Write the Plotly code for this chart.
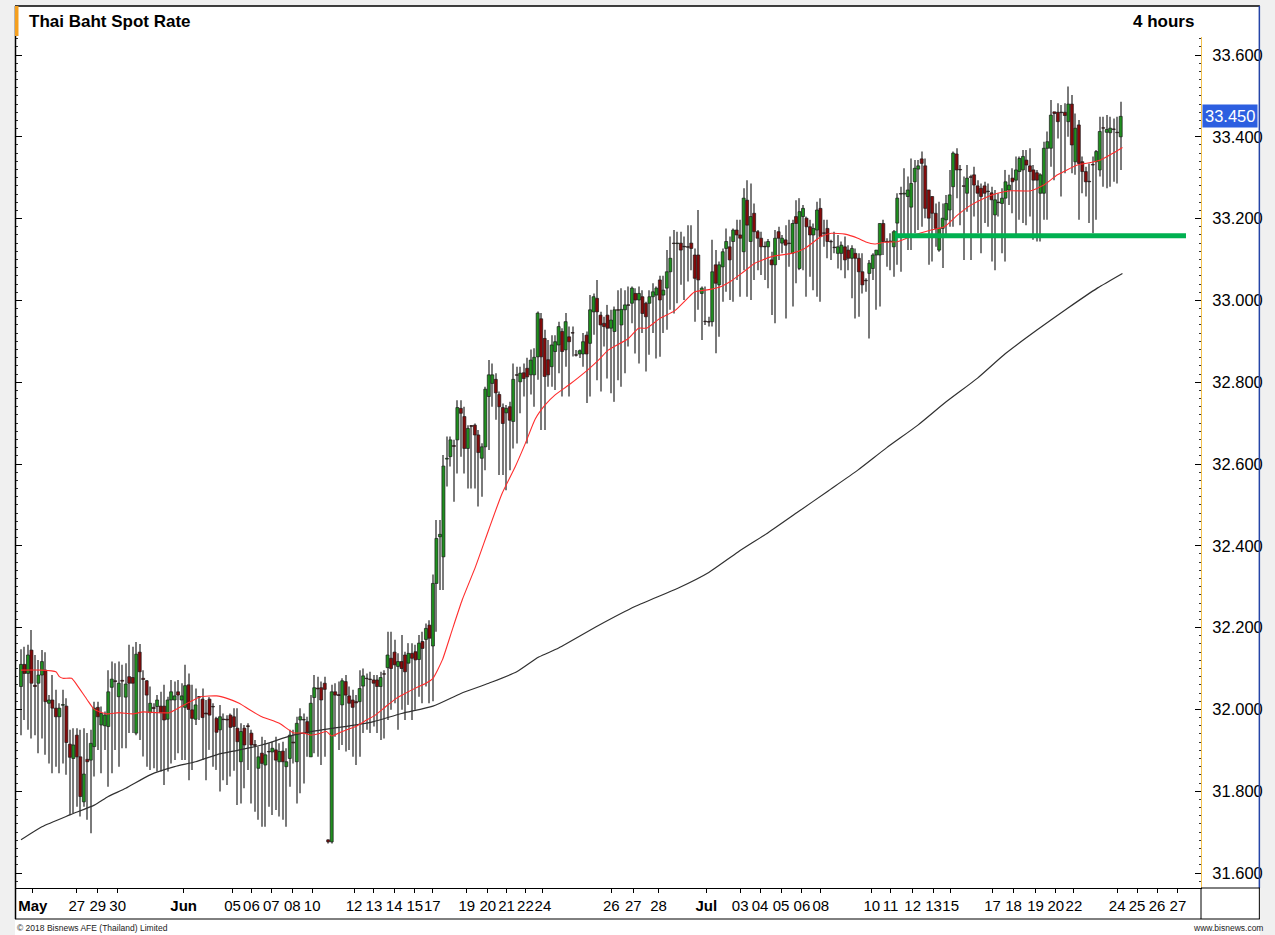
import plotly.graph_objects as go

# ---------------- data (4-hour candles, bar index 0..315) ----------------
OPEN = [
 32.056, 32.110, 32.088, 32.145, 32.059, 32.064, 32.084, 32.096, 32.015, 32.023,
 32.003, 31.982, 32.010, 32.008, 31.915, 31.880, 31.937, 31.884, 31.774, 31.878,
 31.876, 31.909, 32.005, 31.962, 31.960, 31.958, 32.054, 32.070, 32.031, 32.071,
 32.030, 32.080, 32.078, 31.942, 32.140, 32.076, 32.070, 31.992, 32.005, 32.007,
 32.008, 32.008, 31.976, 32.023, 32.023, 32.043, 32.023, 32.005, 32.060, 31.999,
 31.976, 32.031, 32.025, 31.991, 32.025, 32.007, 31.978, 31.950, 31.976, 31.976,
 31.986, 31.982, 31.954, 31.872, 31.954, 31.960, 31.942, 31.914, 31.856, 31.893,
 31.864, 31.897, 31.896, 31.901, 31.872, 31.898, 31.860, 31.880, 31.920, 31.872,
 31.974, 31.975, 31.970, 31.884, 32.029, 32.052, 32.053, 32.064, 31.681, 31.676,
 32.043, 32.036, 32.011, 32.068, 32.033, 32.023, 32.019, 32.019, 32.057, 32.076,
 32.074, 32.072, 32.072, 32.056, 32.087, 32.102, 32.125, 32.140, 32.105, 32.117,
 32.133, 32.113, 32.137, 32.141, 32.122, 32.166, 32.171, 32.206, 32.155, 32.308,
 32.422, 32.373, 32.612, 32.618, 32.645, 32.659, 32.736, 32.716, 32.638, 32.694,
 32.695, 32.671, 32.614, 32.642, 32.765, 32.797, 32.807, 32.770, 32.738, 32.725,
 32.740, 32.704, 32.818, 32.801, 32.823, 32.834, 32.818, 32.818, 32.862, 32.955,
 32.907, 32.855, 32.838, 32.875, 32.891, 32.924, 32.879, 32.911, 32.921, 32.867,
 32.869, 32.869, 32.915, 32.895, 32.972, 33.005, 32.964, 32.944, 32.964, 32.932,
 32.924, 32.977, 32.940, 32.977, 32.989, 32.993, 33.017, 33.001, 33.009, 32.993,
 32.993, 33.009, 33.013, 33.050, 33.013, 33.030, 33.070, 33.140, 33.139, 33.140,
 33.132, 33.131, 33.140, 33.111, 33.111, 33.017, 32.949, 32.948, 32.948, 33.087,
 33.038, 33.082, 33.127, 33.131, 33.144, 33.172, 33.160, 33.119, 33.245, 33.144,
 33.213, 33.168, 33.152, 33.132, 33.131, 33.099, 33.087, 33.168, 33.140, 33.148,
 33.140, 33.115, 33.205, 33.078, 33.205, 33.201, 33.180, 33.160, 33.172, 33.225,
 33.165, 33.176, 33.144, 33.130, 33.115, 33.115, 33.131, 33.123, 33.103, 33.115,
 33.103, 33.070, 33.049, 33.066, 33.078, 33.111, 33.111, 33.188, 33.144, 33.144,
 33.131, 33.189, 33.261, 33.260, 33.254, 33.228, 33.290, 33.321, 33.346, 33.329,
 33.270, 33.254, 33.213, 33.123, 33.176, 33.197, 33.221, 33.278, 33.358, 33.320,
 33.280, 33.262, 33.302, 33.307, 33.280, 33.274, 33.280, 33.267, 33.263, 33.209,
 33.240, 33.237, 33.250, 33.270, 33.299, 33.294, 33.315, 33.319, 33.343, 33.329,
 33.319, 33.312, 33.262, 33.262, 33.372, 33.372, 33.461, 33.460, 33.460, 33.460,
 33.437, 33.480, 33.339, 33.429, 33.339, 33.315, 33.291, 33.332, 33.339, 33.319,
 33.422, 33.411, 33.410, 33.419, 33.411, 33.400,
]
HIGH = [
 32.147, 32.153, 32.158, 32.194, 32.133, 32.121, 32.145, 32.140, 32.035, 32.084,
 32.048, 32.015, 32.048, 32.027, 31.950, 31.954, 31.954, 31.950, 31.954, 31.942,
 31.950, 32.019, 32.019, 32.007, 31.995, 32.096, 32.117, 32.113, 32.117, 32.109,
 32.113, 32.158, 32.153, 32.165, 32.160, 32.096, 32.072, 32.056, 32.015, 32.035,
 32.043, 32.060, 32.031, 32.072, 32.068, 32.072, 32.064, 32.109, 32.088, 32.060,
 32.051, 32.033, 32.051, 32.023, 32.030, 32.015, 31.982, 32.011, 31.990, 31.986,
 31.990, 32.003, 32.003, 31.966, 31.962, 31.966, 31.950, 31.925, 31.909, 31.933,
 31.925, 31.917, 31.921, 31.933, 31.917, 31.921, 31.905, 31.950, 31.950, 31.982,
 32.003, 31.990, 31.982, 32.035, 32.084, 32.080, 32.068, 32.080, 31.682, 32.060,
 32.064, 32.068, 32.076, 32.084, 32.056, 32.048, 32.035, 32.096, 32.100, 32.088,
 32.092, 32.084, 32.084, 32.092, 32.096, 32.190, 32.190, 32.170, 32.137, 32.182,
 32.141, 32.162, 32.162, 32.158, 32.182, 32.190, 32.210, 32.218, 32.330, 32.463,
 32.463, 32.622, 32.667, 32.667, 32.659, 32.756, 32.756, 32.740, 32.695, 32.695,
 32.699, 32.683, 32.651, 32.789, 32.854, 32.846, 32.822, 32.777, 32.748, 32.744,
 32.752, 32.846, 32.838, 32.838, 32.846, 32.860, 32.880, 32.883, 32.973, 32.969,
 32.928, 32.903, 32.915, 32.915, 32.948, 32.932, 32.969, 32.936, 32.936, 32.879,
 32.880, 32.920, 32.924, 33.013, 33.017, 33.050, 32.972, 32.960, 32.989, 32.977,
 32.985, 33.025, 33.030, 33.025, 33.034, 33.034, 33.030, 33.034, 33.025, 32.997,
 33.025, 33.042, 33.034, 33.060, 33.060, 33.123, 33.156, 33.172, 33.168, 33.168,
 33.156, 33.184, 33.184, 33.127, 33.221, 33.034, 33.034, 32.960, 33.148, 33.123,
 33.095, 33.127, 33.176, 33.156, 33.176, 33.197, 33.197, 33.274, 33.294, 33.286,
 33.237, 33.172, 33.168, 33.144, 33.150, 33.119, 33.172, 33.180, 33.160, 33.184,
 33.197, 33.197, 33.245, 33.250, 33.233, 33.205, 33.197, 33.188, 33.241, 33.250,
 33.197, 33.197, 33.148, 33.168, 33.160, 33.144, 33.156, 33.135, 33.135, 33.127,
 33.115, 33.115, 33.054, 33.099, 33.115, 33.123, 33.188, 33.197, 33.152, 33.164,
 33.172, 33.262, 33.278, 33.323, 33.303, 33.347, 33.343, 33.343, 33.364, 33.347,
 33.270, 33.254, 33.237, 33.241, 33.237, 33.258, 33.319, 33.364, 33.372, 33.331,
 33.303, 33.331, 33.307, 33.327, 33.294, 33.286, 33.290, 33.286, 33.278, 33.270,
 33.262, 33.274, 33.319, 33.307, 33.323, 33.352, 33.352, 33.368, 33.368, 33.372,
 33.331, 33.319, 33.311, 33.388, 33.413, 33.490, 33.461, 33.482, 33.478, 33.482,
 33.523, 33.502, 33.457, 33.441, 33.352, 33.327, 33.335, 33.352, 33.368, 33.449,
 33.449, 33.453, 33.449, 33.445, 33.449, 33.486,
]
LOW = [
 31.937, 31.974, 31.950, 31.929, 31.937, 31.893, 31.929, 31.889, 31.868, 31.844,
 31.860, 31.844, 31.868, 31.840, 31.742, 31.746, 31.762, 31.738, 31.762, 31.730,
 31.697, 31.836, 31.901, 31.844, 31.901, 31.811, 31.844, 31.901, 31.860, 31.905,
 31.905, 31.942, 31.942, 31.937, 31.925, 31.885, 31.860, 31.852, 31.856, 31.848,
 31.848, 31.815, 31.848, 31.868, 31.876, 31.893, 31.876, 31.876, 31.827, 31.852,
 31.962, 31.974, 31.876, 31.827, 31.901, 31.860, 31.852, 31.799, 31.827, 31.815,
 31.836, 31.850, 31.766, 31.770, 31.807, 31.852, 31.770, 31.750, 31.730, 31.713,
 31.713, 31.762, 31.742, 31.754, 31.738, 31.730, 31.713, 31.811, 31.868, 31.770,
 31.795, 31.819, 31.884, 31.884, 31.893, 31.884, 31.864, 31.884, 31.672, 31.672,
 31.933, 31.901, 31.913, 31.897, 31.901, 31.884, 31.864, 31.884, 31.942, 31.950,
 31.942, 31.958, 31.942, 31.925, 31.929, 31.974, 31.999, 32.015, 31.950, 31.999,
 31.974, 32.011, 31.974, 31.999, 32.031, 32.015, 32.056, 32.015, 32.020, 32.190,
 32.292, 32.292, 32.545, 32.594, 32.508, 32.577, 32.618, 32.577, 32.540, 32.540,
 32.540, 32.496, 32.520, 32.585, 32.634, 32.740, 32.708, 32.573, 32.573, 32.536,
 32.585, 32.638, 32.650, 32.724, 32.765, 32.650, 32.770, 32.740, 32.806, 32.683,
 32.683, 32.789, 32.789, 32.781, 32.822, 32.765, 32.838, 32.765, 32.863, 32.863,
 32.859, 32.838, 32.749, 32.765, 32.916, 32.805, 32.777, 32.887, 32.809, 32.773,
 32.752, 32.805, 32.789, 32.822, 32.887, 32.944, 32.870, 32.846, 32.920, 32.826,
 32.867, 32.920, 32.858, 32.862, 32.920, 32.928, 32.977, 32.968, 32.993, 33.038,
 33.001, 33.046, 33.074, 32.948, 32.977, 32.903, 32.940, 32.936, 32.936, 32.871,
 32.911, 32.997, 33.021, 33.001, 32.997, 33.050, 33.009, 33.074, 33.009, 33.001,
 33.050, 33.074, 33.062, 33.050, 33.030, 32.964, 32.944, 33.099, 33.115, 32.956,
 33.082, 32.985, 33.042, 33.074, 33.074, 33.009, 33.058, 33.025, 33.009, 32.997,
 33.131, 33.103, 33.099, 33.115, 33.078, 33.074, 33.054, 33.074, 33.005, 32.956,
 32.960, 33.017, 33.021, 32.907, 33.050, 32.977, 32.985, 33.111, 33.082, 33.074,
 33.058, 33.087, 33.070, 33.156, 33.123, 33.123, 33.164, 33.172, 33.180, 33.201,
 33.087, 33.095, 33.131, 33.119, 33.079, 33.156, 33.180, 33.180, 33.250, 33.184,
 33.099, 33.217, 33.099, 33.205, 33.164, 33.115, 33.189, 33.180, 33.095, 33.074,
 33.205, 33.115, 33.095, 33.233, 33.213, 33.156, 33.197, 33.189, 33.184, 33.205,
 33.148, 33.144, 33.144, 33.197, 33.197, 33.327, 33.294, 33.396, 33.254, 33.311,
 33.400, 33.311, 33.307, 33.197, 33.262, 33.254, 33.189, 33.164, 33.197, 33.303,
 33.278, 33.274, 33.278, 33.290, 33.286, 33.319,
]
CLOSE = [
 32.110, 32.088, 32.133, 32.064, 32.056, 32.084, 32.117, 32.019, 32.023, 32.003,
 31.982, 32.003, 32.012, 31.919, 31.883, 31.913, 31.884, 31.787, 31.842, 31.872,
 31.917, 32.003, 31.982, 31.990, 31.986, 32.043, 32.074, 32.068, 32.064, 32.069,
 32.062, 32.064, 32.064, 32.135, 32.092, 32.073, 32.035, 32.015, 32.002, 32.023,
 31.992, 31.974, 32.023, 32.043, 32.033, 32.035, 32.033, 32.058, 32.000, 31.978,
 32.011, 32.030, 31.980, 31.989, 31.986, 32.006, 31.944, 31.982, 31.975, 31.974,
 31.956, 31.958, 31.921, 31.946, 31.913, 31.958, 31.913, 31.912, 31.884, 31.868,
 31.889, 31.896, 31.905, 31.876, 31.897, 31.872, 31.872, 31.937, 31.918, 31.966,
 31.982, 31.974, 31.942, 32.015, 32.053, 32.050, 32.023, 32.049, 31.676, 32.043,
 32.035, 32.034, 32.070, 32.035, 32.015, 32.005, 32.016, 32.051, 32.082, 32.075,
 32.073, 32.064, 32.056, 32.078, 32.086, 32.133, 32.100, 32.109, 32.117, 32.100,
 32.092, 32.137, 32.125, 32.121, 32.162, 32.149, 32.198, 32.174, 32.308, 32.418,
 32.428, 32.595, 32.614, 32.659, 32.643, 32.738, 32.724, 32.638, 32.687, 32.692,
 32.671, 32.628, 32.642, 32.783, 32.818, 32.818, 32.774, 32.740, 32.699, 32.736,
 32.707, 32.807, 32.817, 32.822, 32.809, 32.813, 32.854, 32.861, 32.969, 32.862,
 32.814, 32.818, 32.891, 32.899, 32.936, 32.875, 32.948, 32.899, 32.920, 32.866,
 32.877, 32.899, 32.869, 32.977, 33.009, 32.972, 32.940, 32.936, 32.932, 32.952,
 32.977, 32.976, 32.978, 32.989, 32.988, 33.030, 33.001, 33.017, 32.968, 32.960,
 33.009, 33.021, 33.030, 33.001, 33.025, 33.070, 33.103, 33.139, 33.140, 33.123,
 33.131, 33.130, 33.127, 33.054, 33.050, 33.030, 32.948, 32.947, 33.070, 33.042,
 33.087, 33.119, 33.144, 33.099, 33.172, 33.160, 33.152, 33.250, 33.184, 33.205,
 33.168, 33.152, 33.131, 33.131, 33.144, 33.087, 33.152, 33.152, 33.152, 33.135,
 33.139, 33.188, 33.188, 33.217, 33.225, 33.180, 33.160, 33.176, 33.221, 33.156,
 33.164, 33.144, 33.143, 33.129, 33.131, 33.135, 33.099, 33.103, 33.127, 33.103,
 33.070, 33.038, 33.048, 33.091, 33.111, 33.123, 33.188, 33.144, 33.143, 33.145,
 33.168, 33.250, 33.260, 33.262, 33.270, 33.286, 33.323, 33.329, 33.335, 33.225,
 33.201, 33.213, 33.176, 33.176, 33.201, 33.237, 33.258, 33.360, 33.319, 33.319,
 33.279, 33.299, 33.301, 33.282, 33.262, 33.254, 33.262, 33.266, 33.246, 33.246,
 33.239, 33.250, 33.290, 33.282, 33.290, 33.319, 33.347, 33.352, 33.331, 33.315,
 33.294, 33.294, 33.307, 33.372, 33.388, 33.453, 33.457, 33.437, 33.459, 33.452,
 33.480, 33.380, 33.421, 33.335, 33.315, 33.290, 33.290, 33.331, 33.364, 33.413,
 33.421, 33.418, 33.421, 33.418, 33.410, 33.450,
]

# fast moving average (red), read at bar positions
MA_FAST_X = [0, 6, 10, 11, 12, 14.5, 16, 19, 21, 24.5, 28, 32, 35, 39, 42.5, 45.5, 48.5, 51.5,
             56, 59, 62.5, 65.5, 69, 74, 78, 81, 83, 85.5, 87.5, 89, 92, 96, 99, 101.5, 104.5,
             107.5, 110, 113, 116, 118, 120.7, 123.5, 126.4, 130.2, 134, 137.8, 141.6, 144.5,
             147.3, 150.2, 153, 156.9, 162.6, 165.4, 168.3, 174, 176.9, 179.2, 183, 187.3,
             191.5, 193, 197.5, 200.6, 203.5, 206.4, 210.2, 215, 220.7, 224.5, 229.2, 232.1,
             236, 239.7, 242, 244.5, 247.3, 251.1, 255.9, 260.7, 264.5, 268.3, 272.1, 275.9,
             279.7, 283.5, 289.2, 293, 296.9, 302.6, 306.4, 309.2, 313, 315.5]
MA_FAST_Y = [32.096, 32.096, 32.092, 32.080, 32.076, 32.076, 32.060, 32.023, 32.000, 31.989,
             31.992, 31.989, 31.994, 31.992, 31.992, 32.005, 32.019, 32.031, 32.033, 32.027,
             32.015, 31.999, 31.982, 31.966, 31.943, 31.942, 31.937, 31.941, 31.946, 31.935,
             31.946, 31.959, 31.974, 31.986, 32.007, 32.027, 32.039, 32.052, 32.064, 32.076,
             32.121, 32.194, 32.268, 32.349, 32.440, 32.528, 32.594, 32.651, 32.710, 32.745,
             32.769, 32.793, 32.832, 32.854, 32.879, 32.907, 32.932, 32.932, 32.956, 32.975,
             33.010, 33.021, 33.027, 33.034, 33.048, 33.066, 33.091, 33.107, 33.115, 33.127,
             33.156, 33.164, 33.162, 33.152, 33.143, 33.138, 33.142, 33.144, 33.160, 33.172,
             33.180, 33.209, 33.233, 33.250, 33.262, 33.268, 33.268, 33.282, 33.307, 33.331,
             33.337, 33.343, 33.361, 33.374]

# slow moving average (black)
MA_SLOW_X = [0, 6, 14, 21, 25, 30, 37, 44, 50, 56, 62, 69, 78, 87, 96, 101, 109, 118, 126,
             134, 142, 148.3, 154, 165.4, 176, 188.3, 197, 205.4, 214, 222.6, 231, 239.7, 248,
             256.9, 265, 274, 282, 291.1, 300, 308.3, 315.5]
MA_SLOW_Y = [31.681, 31.713, 31.742, 31.766, 31.787, 31.807, 31.840, 31.860, 31.872, 31.889,
             31.900, 31.913, 31.937, 31.951, 31.962, 31.970, 31.990, 32.008, 32.039, 32.064,
             32.092, 32.128, 32.150, 32.205, 32.252, 32.297, 32.335, 32.385, 32.432, 32.483,
             32.533, 32.585, 32.640, 32.695, 32.752, 32.810, 32.870, 32.928, 32.982, 33.030,
             33.066]

SUPPORT_LEVEL = 33.158
SUPPORT_START = 250.6
SUPPORT_END = 333.7
LAST_PRICE = 33.450

TICK_TEXT = ['<b>May</b>', '27', '29', '30', '<b>Jun</b>', '05', '06', '07', '08', '10', '12', '13',
             '14', '15', '17', '19', '20', '21', '22', '24', '26', '27', '28', '<b>Jul</b>', '03',
             '04', '05', '06', '08', '10', '11', '12', '13', '15', '17', '18', '19', '20', '22',
             '24', '25', '26', '27']
TICK_POS = [3.4, 16.0, 22.0, 27.7, 46.6, 60.6, 66.0, 71.7, 77.7, 83.4, 95.4, 101.1, 106.9,
            112.8, 117.8, 127.7, 133.7, 139.1, 144.5, 149.5, 169.1, 175.4, 182.6, 196.3, 206.0,
            211.7, 217.7, 223.7, 229.1, 243.7, 249.1, 255.4, 261.4, 266.3, 278.3, 284.3, 290.6,
            296.4, 301.6, 314.0, 319.7, 325.4, 331.4]

# ---------------- layout geometry ----------------
FIG_W, FIG_H = 1275, 935
PL, PR, PT, PB = 16, 1204, 37, 888
PW, PH = PR - PL, PB - PT
X_RANGE = [(PL - 21) / 3.5, (PR - 21) / 3.5]
Y_RANGE = [33.6 - (PB - 55) / 409.0, 33.6 + (55 - PT) / 409.0]
FONT = "Liberation Sans, Arial, sans-serif"


def fx(p):
    return (p - PL) / PW


def fy(p):
    return (PB - p) / PH


idx = list(range(len(CLOSE)))
up = [i for i in idx if CLOSE[i] >= OPEN[i]]
dn = [i for i in idx if CLOSE[i] < OPEN[i]]
MINB = 0.0012

fig = go.Figure()
fig.add_trace(go.Bar(x=idx, base=LOW, y=[h - l for h, l in zip(HIGH, LOW)], width=0.3,
                     marker=dict(color='#7a7a7a', line=dict(width=0)), hoverinfo='skip'))
fig.add_trace(go.Bar(x=up, base=[OPEN[i] for i in up],
                     y=[max(CLOSE[i] - OPEN[i], MINB) for i in up], width=0.86,
                     marker=dict(color='#1f8f1f', line=dict(color='#1a1a1a', width=0.7)),
                     hoverinfo='skip'))
fig.add_trace(go.Bar(x=dn, base=[CLOSE[i] for i in dn],
                     y=[max(OPEN[i] - CLOSE[i], MINB) for i in dn], width=0.86,
                     marker=dict(color='#860a0a', line=dict(color='#1a1a1a', width=0.7)),
                     hoverinfo='skip'))
fig.add_trace(go.Scatter(x=MA_SLOW_X, y=MA_SLOW_Y, mode='lines', hoverinfo='skip',
                         line=dict(color='#303030', width=1.2, shape='spline', smoothing=0.6)))
fig.add_trace(go.Scatter(x=MA_FAST_X, y=MA_FAST_Y, mode='lines', hoverinfo='skip',
                         line=dict(color='#ff2d2d', width=1.1, shape='spline', smoothing=0.5)))

shapes = [
    # white chart panel
    dict(type='rect', xref='paper', yref='paper', x0=fx(15), x1=fx(1263), y0=fy(935), y1=fy(6),
         fillcolor='white', line=dict(width=0), layer='below'),
    # support line
    dict(type='line', xref='x', yref='y', x0=SUPPORT_START, x1=SUPPORT_END,
         y0=SUPPORT_LEVEL, y1=SUPPORT_LEVEL, line=dict(color='#00b050', width=5)),
    dict(type='line', xref='x', yref='y', x0=SUPPORT_START, x1=SUPPORT_START,
         y0=SUPPORT_LEVEL - 0.014, y1=SUPPORT_LEVEL + 0.012, line=dict(color='#00b050', width=2)),
    # frame
    dict(type='line', xref='paper', yref='paper', x0=fx(15), x1=fx(1263), y0=fy(6), y1=fy(6),
         line=dict(color='black', width=1.5)),
    dict(type='line', xref='paper', yref='paper', x0=fx(15.5), x1=fx(15.5), y0=fy(6), y1=fy(919),
         line=dict(color='black', width=1.5)),
    dict(type='line', xref='paper', yref='paper', x0=fx(1262.5), x1=fx(1262.5), y0=fy(6), y1=fy(PB),
         line=dict(color='#2444a8', width=1.5)),
    dict(type='line', xref='paper', yref='paper', x0=fx(PR), x1=fx(1263), y0=fy(PB), y1=fy(PB),
         line=dict(color='black', width=1)),
    dict(type='line', xref='paper', yref='paper', x0=fx(15), x1=fx(1263), y0=fy(919), y1=fy(919),
         line=dict(color='black', width=1)),
    dict(type='line', xref='paper', yref='paper', x0=fx(PR), x1=fx(PR), y0=fy(PB), y1=fy(919),
         line=dict(color='black', width=1)),
    dict(type='line', xref='paper', yref='paper', x0=fx(1262.5), x1=fx(1262.5), y0=fy(PB), y1=fy(919),
         line=dict(color='black', width=1)),
    # orange marker at title
    dict(type='rect', xref='paper', yref='paper', x0=fx(15), x1=fx(18.5), y0=fy(36), y1=fy(6),
         fillcolor='#f5a020', line=dict(width=0)),
]

annotations = [
    dict(xref='paper', yref='paper', x=fx(27), y=fy(22), xanchor='left', yanchor='middle',
         text='<b>Thai Baht Spot Rate</b>', showarrow=False,
         font=dict(family=FONT, size=17, color='black')),
    dict(xref='paper', yref='paper', x=fx(1199), y=fy(22), xanchor='right', yanchor='middle',
         text='<b>4 hours</b>', showarrow=False,
         font=dict(family=FONT, size=17, color='black')),
    dict(xref='paper', yref='y', x=fx(1205), y=LAST_PRICE, xanchor='left', yanchor='middle',
         text='33.450', showarrow=False, bgcolor='#2d5fe0', borderpad=2,
         font=dict(family=FONT, size=16.5, color='white')),
    dict(xref='paper', yref='paper', x=fx(15), y=fy(928), xanchor='left', yanchor='middle',
         text='© 2018 Bisnews AFE (Thailand) Limited', showarrow=False,
         font=dict(family=FONT, size=8.5, color='#222')),
    dict(xref='paper', yref='paper', x=fx(1268), y=fy(928), xanchor='right', yanchor='middle',
         text='www.bisnews.com', showarrow=False,
         font=dict(family=FONT, size=8.5, color='#222')),
]

fig.update_layout(
    width=FIG_W, height=FIG_H, autosize=False,
    margin=dict(l=PL, r=FIG_W - PR, t=PT, b=FIG_H - PB, pad=0),
    paper_bgcolor='#f0f0f0', plot_bgcolor='rgba(0,0,0,0)',
    barmode='overlay', showlegend=False, hovermode=False,
    shapes=shapes, annotations=annotations,
    xaxis=dict(range=X_RANGE, tickmode='array', tickvals=TICK_POS, ticktext=TICK_TEXT,
               tickangle=0, ticks='outside', ticklen=4, tickcolor='black',
               tickfont=dict(family=FONT, size=15, color='black'),
               showline=True, linecolor='black', linewidth=1, showgrid=False, zeroline=False,
               fixedrange=True),
    yaxis=dict(range=Y_RANGE, side='right', tickmode='linear', tick0=31.6, dtick=0.2,
               tickformat='.3f', ticks='inside', ticklen=6, tickcolor='black',
               tickfont=dict(family=FONT, size=16.5, color='black'), ticklabelstandoff=7,
               minor=dict(dtick=0.02, tick0=31.6, ticks='inside', ticklen=2, tickcolor='#333',
                          showgrid=False),
               showline=True, linecolor='#f2c14e', linewidth=1, mirror='ticks',
               showgrid=False, zeroline=False, fixedrange=True),
)

fig.write_html("out.html", config={'displayModeBar': False},
               post_script="document.body.style.margin='0';document.body.style.overflow='hidden';")
